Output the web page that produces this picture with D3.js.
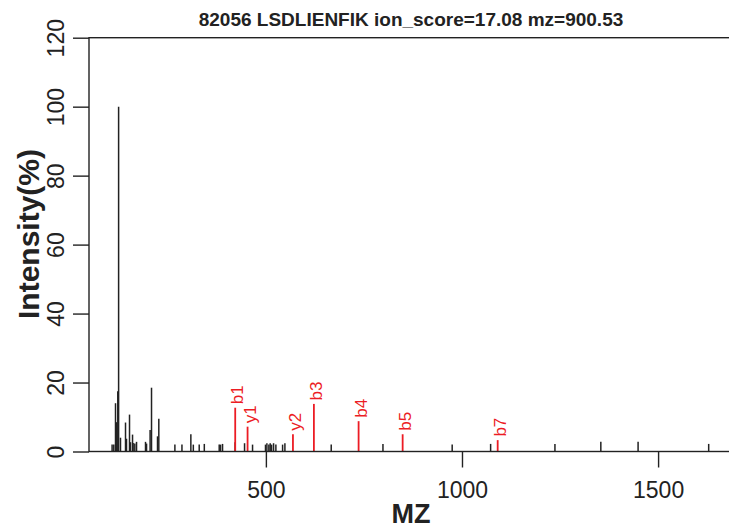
<!DOCTYPE html>
<html>
<head>
<meta charset="utf-8">
<script src="https://cdn.jsdelivr.net/npm/d3@7"></script>
<style>
body { margin: 0; background: #fff; }
svg { display: block; font-family: "Liberation Sans", Arial, Helvetica, sans-serif; }
</style>
</head>
<body>
<svg id="chart" width="729" height="529"></svg>
<script>
// all peaks (black)
var peakMz = [107.9, 112.2, 116.6, 119.1, 122.4, 124.5, 129.3, 142.1, 144.6, 152.3,
	154.8, 160.0, 161.5, 165.8, 170.2, 193.1, 195.7, 204.8, 208.4, 223.7,
	227.0, 268, 286, 308.7, 315, 330, 343, 381, 384.4, 389.5,
	421.5, 445.6, 466, 499, 502.6, 507.6, 511, 514.5, 519.6, 525.5,
	542.6, 548.5, 666.6, 798.5, 975, 1073, 1237, 1354, 1449, 1629];
var peakInt = [2, 2, 14, 8.5, 17.5, 100, 4, 8.4, 3.7, 10.7,
	2.7, 4.9, 2.5, 2.3, 2.8, 2.8, 2.3, 6.2, 18.5, 4.4,
	9.5, 2, 2, 5, 2, 2, 2.2, 2, 2, 2.2,
	2.7, 2.4, 2, 2, 2.4, 2, 2.4, 2, 2.4, 2,
	2, 2.4, 2, 2.2, 2, 2.2, 2.2, 2.8, 2.8, 2.2];

// matched ions (red)
var ionMz = [421.8, 453.3, 569, 622.4, 736.4, 848.7, 1091];
var ionInt = [12.7, 7.2, 5, 13.8, 8.8, 5, 3.3];
var ionLabels = ["b1", "y1", "y2", "b3", "b4", "b5", "b7"];

var xTicks = [500, 1000, 1500];
var yTicks = [0, 20, 40, 60, 80, 100, 120];
var titleText = "82056 LSDLIENFIK ion_score=17.08 mz=900.53";

var svg = d3.select("#chart");
var plotLeft = 89, plotRight = 733, plotTop = 37.7, plotBottom = 451.5;
var ink = "#222";
var red = "#ec1c24";

var x = d3.scaleLinear().domain([49, 1691]).range([plotLeft, plotRight]);
var y = d3.scaleLinear().domain([0, 120]).range([plotBottom, plotTop]);

// black peaks
svg.append("g").selectAll("line")
	.data(peakMz).enter()
	.append("line")
	.attr("x1", function(d){ return x(d); })
	.attr("x2", function(d){ return x(d); })
	.attr("y1", y(0))
	.attr("y2", function(d, i){ return y(peakInt[i]); })
	.attr("stroke", ink)
	.attr("stroke-width", 1.5);

// red ions + labels
var ionGroup = svg.append("g").selectAll("g")
	.data(ionMz).enter()
	.append("g");
ionGroup.append("line")
	.attr("x1", function(d){ return x(d); })
	.attr("x2", function(d){ return x(d); })
	.attr("y1", y(0))
	.attr("y2", function(d, i){ return y(ionInt[i]); })
	.attr("stroke", red)
	.attr("stroke-width", 1.8);
ionGroup.append("text")
	.attr("transform", function(d, i){
		return "translate(" + (x(d) + 2) + "," + (y(ionInt[i]) - 3.5) + ") rotate(-90)";
	})
	.attr("dy", "0.35em")
	.attr("fill", red)
	.style("font-size", "17px")
	.text(function(d, i){ return ionLabels[i]; });

// box
svg.append("rect")
	.attr("x", plotLeft).attr("y", plotTop)
	.attr("width", plotRight - plotLeft).attr("height", plotBottom - plotTop)
	.attr("fill", "none")
	.attr("stroke", ink)
	.attr("stroke-width", 1.4);

// y axis
var yAxis = svg.append("g")
	.attr("transform", "translate(" + plotLeft + ",0)")
	.call(d3.axisLeft(y).tickValues(yTicks).tickSize(16).tickFormat(d3.format("d")));
yAxis.select(".domain").remove();
yAxis.selectAll(".tick line").attr("stroke", ink).attr("stroke-width", 1.4);
yAxis.selectAll(".tick text")
	.attr("x", null).attr("dy", null)
	.attr("text-anchor", "middle")
	.attr("fill", ink)
	.attr("transform", "translate(-25.5,0) rotate(-90)")
	.style("font-size", "23px")
	.style("font-family", "Liberation Sans, Arial, sans-serif");

// x axis
var xAxis = svg.append("g")
	.attr("transform", "translate(0," + plotBottom + ")")
	.call(d3.axisBottom(x).tickValues(xTicks).tickSize(16).tickFormat(d3.format("d")));
xAxis.select(".domain").remove();
xAxis.selectAll(".tick line").attr("stroke", ink).attr("stroke-width", 1.4);
xAxis.selectAll(".tick text")
	.attr("y", 46.5).attr("dy", null)
	.attr("fill", ink)
	.style("font-size", "23px")
	.style("font-family", "Liberation Sans, Arial, sans-serif");

// titles
svg.append("text")
	.attr("x", 411).attr("y", 26)
	.attr("text-anchor", "middle")
	.attr("fill", ink)
	.style("font-weight", "bold")
	.style("font-size", "19px")
	.text(titleText);

svg.append("text")
	.attr("x", 411).attr("y", 523)
	.attr("text-anchor", "middle")
	.attr("fill", ink)
	.style("font-weight", "bold")
	.style("font-size", "27px")
	.text("MZ");

svg.append("text")
	.attr("transform", "translate(39,234) rotate(-90)")
	.attr("text-anchor", "middle")
	.attr("fill", ink)
	.style("font-weight", "bold")
	.style("font-size", "30px")
	.text("Intensity(%)");
</script>
</body>
</html>
